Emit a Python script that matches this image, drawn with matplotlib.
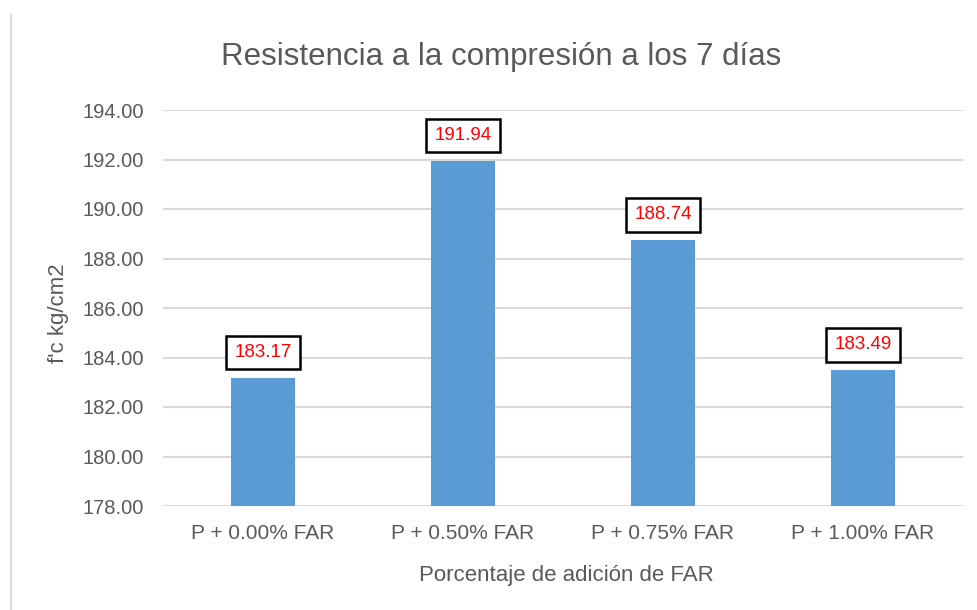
import matplotlib
matplotlib.use("Agg")
import matplotlib.pyplot as plt
from matplotlib.lines import Line2D

categories = ["P + 0.00% FAR", "P + 0.50% FAR", "P + 0.75% FAR", "P + 1.00% FAR"]
values = [183.17, 191.94, 188.74, 183.49]
yticks = [178.00, 180.00, 182.00, 184.00, 186.00, 188.00, 190.00, 192.00, 194.00]

title = "Resistencia a la compresión a los 7 días"
xlabel = "Porcentaje de adición de FAR"
ylabel = "f'c kg/cm2"

plt.rcParams["font.family"] = ["Liberation Sans", "DejaVu Sans"]

W, H, DPI = 978, 610, 100
fig = plt.figure(figsize=(W / DPI, H / DPI), dpi=DPI)
fig.patch.set_facecolor("white")

left, right, top, bottom = 163, 963, 110, 506
ax = fig.add_axes([left / W, 1 - bottom / H, (right - left) / W, (bottom - top) / H])

x = range(len(categories))
ax.bar(x, values, width=0.32, color="#5b9bd5", zorder=3)
ax.set_ylim(178, 194)
ax.set_xlim(-0.5, len(categories) - 0.5)
ax.set_yticks(yticks)
ax.set_yticklabels([f"{v:.2f}" for v in yticks])
ax.set_xticks(list(x))
ax.set_xticklabels(categories)

ax.grid(axis="y", color="#d9d9d9", linewidth=1.5, zorder=0)
for s in ax.spines.values():
    s.set_visible(False)
ax.tick_params(axis="y", length=0, labelsize=14.5, colors="#595959", pad=14)
ax.tick_params(axis="x", length=0, labelsize=15, colors="#595959", pad=13)

for xi, v in zip(x, values):
    ax.annotate(f"{v:.2f}", xy=(xi, v), xytext=(0, 17), textcoords="offset pixels",
                ha="center", va="bottom", fontsize=13.5, color="#ff0000",
                bbox=dict(boxstyle="square,pad=0.45", facecolor="white",
                          edgecolor="black", linewidth=1.8), zorder=5)

fig.text(501 / W, 1 - 57 / H, title, ha="center", va="center", fontsize=22.5, color="#595959")
fig.text(566 / W, 1 - 575 / H, xlabel, ha="center", va="center", fontsize=16, color="#595959")
fig.text(59 / W, 1 - 313 / H, ylabel, ha="center", va="center", rotation=90,
         fontsize=16, color="#595959")

fig.add_artist(Line2D([11.5 / W, 11.5 / W], [0, 1 - 15 / H], color="#d9d9d9",
                      linewidth=1.5, transform=fig.transFigure))

fig.savefig("out.png", dpi=DPI)
